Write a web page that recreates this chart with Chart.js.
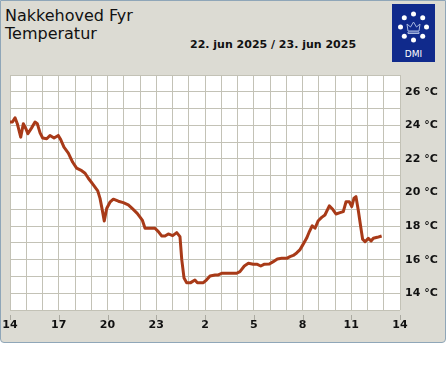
<!DOCTYPE html>
<html>
<head>
<meta charset="utf-8">
<script src="https://cdn.jsdelivr.net/npm/chart.js@4/dist/chart.umd.min.js"></script>
<style>
  body { margin: 0; background: #fff; font-family: "DejaVu Sans", sans-serif; }
  #panel {
    position: absolute; left: 0; top: 0; width: 444px; height: 341px;
    background: #dcdbd3; border: 1px solid #8fa6b8; border-radius: 0 0 4px 4px;
  }
  .title { position: absolute; left: 5px; font-size: 16px; color: #111; }
  #date { position: absolute; left: 190px; top: 38px; font-size: 11px; font-weight: bold; color: #111; }
  #logo { position: absolute; left: 392px; top: 4px; }
  canvas { position: absolute; left: 0; top: 0; }
</style>
</head>
<body>
<div id="panel"></div>
<div class="title" style="top:6px">Nakkehoved Fyr</div>
<div class="title" style="top:24px">Temperatur</div>
<div id="date">22. jun 2025 / 23. jun 2025</div>
<svg id="logo" width="43" height="58" viewBox="0 0 43 58">
  <rect width="43" height="58" fill="#102a8c"/>
  <g fill="#fff">
    <circle cx="21.5" cy="10" r="2.5"/><circle cx="30.7" cy="13.8" r="2.5"/>
    <circle cx="34.5" cy="23" r="2.5"/><circle cx="30.7" cy="32.2" r="2.5"/>
    <circle cx="21.5" cy="36" r="2.5"/><circle cx="12.3" cy="32.2" r="2.5"/>
    <circle cx="8.5" cy="23" r="2.5"/><circle cx="12.3" cy="13.8" r="2.5"/>
  </g>
  <path d="M16 27 L15 20 L18.5 23 L21.5 18 L24.5 23 L28 20 L27 27 Z M16 28 H27 V29.5 H16 Z" fill="none" stroke="#a8b8e0" stroke-width="1"/>
  <text x="21.5" y="53" text-anchor="middle" font-family="DejaVu Sans" font-size="9" fill="#fff">DMI</text>
</svg>
<canvas id="c" width="447" height="370"></canvas>
<script>
// hours after 14:00 on 22 jun
const hours = [0, 0.15, 0.31, 0.45, 0.66, 0.82, 0.98, 1.1, 1.33, 1.54, 1.68, 1.85, 2.01, 2.26, 2.46, 2.71, 2.97, 3.12,
  3.32, 3.59, 3.86, 4.1, 4.41, 4.62, 4.82, 5.13, 5.4, 5.54, 5.68, 5.8, 5.95, 6.15, 6.36, 6.67, 6.97, 7.28, 7.55, 7.83,
  8.14, 8.31, 8.51, 8.92, 9.13, 9.33, 9.54, 9.74, 10.01, 10.26, 10.46, 10.57, 10.71, 10.87, 11.12, 11.38, 11.53, 11.9,
  12.1, 12.31, 12.62, 12.82, 13.03, 13.95, 14.15, 14.42, 14.67, 14.97, 15.22, 15.43, 15.63, 15.96, 16.2, 16.45, 16.72,
  17.03, 17.23, 17.43, 17.64, 17.85, 18.0, 18.25, 18.4, 18.6, 18.77, 18.97, 19.18, 19.38, 19.65, 19.86, 20.06, 20.31,
  20.51, 20.68, 20.88, 21.03, 21.17, 21.29, 21.43, 21.58, 21.7, 21.85, 22.05, 22.22, 22.36, 22.6, 22.87];
const temps = [24.2, 24.2, 24.45, 24.1, 23.3, 24.1, 23.8, 23.5, 23.85, 24.2, 24.1, 23.55, 23.25, 23.2, 23.4, 23.25, 23.4, 23.15,
  22.7, 22.35, 21.8, 21.45, 21.3, 21.15, 20.85, 20.45, 20.1, 19.65, 18.95, 18.3, 19.05, 19.42, 19.6, 19.48, 19.4, 19.26, 19.02, 18.76,
  18.36, 17.87, 17.87, 17.87, 17.67, 17.41, 17.41, 17.53, 17.43, 17.61, 17.37, 16.0, 14.9, 14.63, 14.63, 14.79, 14.63, 14.63,
  14.8, 15.03, 15.09, 15.09, 15.19, 15.19, 15.29, 15.62, 15.78, 15.72, 15.72, 15.62, 15.72, 15.74, 15.88, 16.04, 16.08,
  16.08, 16.18, 16.25, 16.4, 16.6, 16.85, 17.27, 17.62, 18.02, 17.87, 18.32, 18.52, 18.66, 19.2, 19.0, 18.72, 18.8,
  18.86, 19.45, 19.45, 19.16, 19.66, 19.75, 18.96, 17.97, 17.22, 17.07, 17.27, 17.11, 17.27, 17.33, 17.41];
const startHour = 14;
const xLabelEvery = 3;
const yMin = 13, yMax = 27;

const gridColor = '#c3c2b6';
const labelFont = { family: 'DejaVu Sans', size: 11, weight: 'bold' };

const plotBg = {
  id: 'plotBg',
  beforeDraw(chart) {
    const a = chart.chartArea, ctx = chart.ctx;
    ctx.save();
    ctx.fillStyle = '#fff';
    ctx.fillRect(a.left, a.top, a.right - a.left, a.bottom - a.top);
    ctx.restore();
  },
  afterDraw(chart) {
    // small tick marks under the labelled hours
    const x = chart.scales.x, ctx = chart.ctx;
    ctx.save();
    ctx.strokeStyle = '#aaa9a0';
    ctx.lineWidth = 1;
    for (let h = 0; h <= 24; h += xLabelEvery) {
      const px = Math.round(x.getPixelForValue(h)) + 0.5;
      ctx.beginPath();
      ctx.moveTo(px, chart.chartArea.bottom + 5);
      ctx.lineTo(px, chart.chartArea.bottom + 10);
      ctx.stroke();
    }
    ctx.restore();
  }
};

new Chart(document.getElementById('c'), {
  type: 'line',
  data: {
    datasets: [{
      data: hours.map((h, i) => ({ x: h, y: temps[i] })),
      borderColor: '#a83a18',
      borderWidth: 3,
      pointRadius: 0,
      tension: 0,
      borderJoinStyle: 'round'
    }]
  },
  options: {
    responsive: false,
    animation: false,
    layout: { padding: { left: 10, top: 75, right: 0, bottom: 30 } },
    plugins: { legend: { display: false }, tooltip: { enabled: false } },
    scales: {
      x: {
        type: 'linear', min: 0, max: 24,
        afterFit: s => { s.height = 30; s.paddingLeft = 0; s.paddingRight = 0; },
        grid: { color: gridColor, drawTicks: false },
        border: { display: false },
        ticks: {
          stepSize: 1, autoSkip: false, maxRotation: 0, padding: 9,
          color: '#111', font: labelFont,
          callback: v => v % xLabelEvery === 0 ? String((startHour + v) % 24) : ''
        }
      },
      y: {
        position: 'right', min: yMin, max: yMax,
        afterFit: s => { s.width = 47; s.paddingTop = 0; s.paddingBottom = 0; },
        grid: { color: gridColor, drawTicks: false },
        border: { display: false },
        ticks: {
          stepSize: 1, autoSkip: false, padding: 5,
          color: '#111', font: labelFont,
          callback: v => (v % 2 === 0 && v > yMin && v < yMax) ? v + ' °C' : ''
        }
      }
    }
  },
  plugins: [plotBg]
});
</script>
</body>
</html>
